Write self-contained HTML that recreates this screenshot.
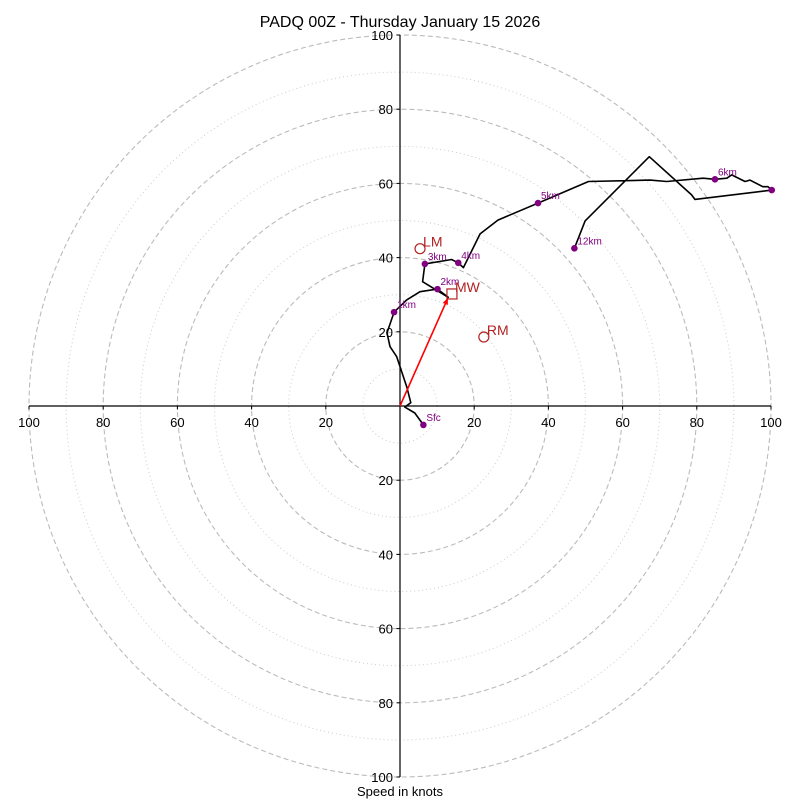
<!DOCTYPE html>
<html><head><meta charset="utf-8"><style>
body{margin:0;background:#fff}
svg{display:block;font-family:"Liberation Sans","DejaVu Sans",sans-serif}
</style></head><body>
<svg id="c" width="800" height="800" viewBox="0 0 800 800">
<rect width="800" height="800" fill="#fff"/>
<text x="400" y="27" text-anchor="middle" font-size="16">PADQ 00Z - Thursday January 15 2026</text>
<text x="400" y="796" text-anchor="middle" font-size="13">Speed in knots</text>
<g id="grid"></g><g id="axes"></g><g id="plot"></g>
</svg>
<script>
const ringsDashed=[20,40,60,80,100];
const ringsDotted=[10,30,50,70,90];
const tickVals=[20,40,60,80,100];
const uVals=[6.3,4.0,1.3,2.9,1.8,-0.9,-2.7,-3.5,-1.6,1.8,5.4,10.1,13.0,6.1,6.7,13.9,15.7,17.1,21.6,26.4,37.2,50.8,67.4,71.9,81.7,84.9,88.1,89.4,93.0,94.3,97.8,99.2,100.2,79.5,78.6,67.2,49.9,47.0];
const vVals=[-5.1,-1.9,-0.3,0.9,5.2,13.3,16.0,19.7,25.3,28.6,30.8,31.5,29.3,33.5,38.3,39.5,38.6,37.3,46.4,50.1,54.7,60.5,60.9,60.5,61.4,61.1,61.4,62.3,60.5,60.9,59.1,59.1,58.2,55.7,56.9,67.2,49.9,42.5];
const markerIdx=[0,8,11,14,16,20,25,32,37];
const markerLabels=["Sfc","1km","2km","3km","4km","5km","6km","","12km"];
const motionNames=["LM","MW","RM"];
const motionU=[5.4,14.0,22.6];
const motionV=[42.4,30.2,18.6];
const cx=400,cy=406,s=3.71;
const X=u=>cx+u*s, Y=v=>cy-v*s;
const NS="http://www.w3.org/2000/svg";
function mk(tag,attrs,parent,txt){const e=document.createElementNS(NS,tag);for(const k in attrs)e.setAttribute(k,attrs[k]);if(txt!==undefined)e.textContent=txt;parent.appendChild(e);return e;}
const grid=document.getElementById('grid'),axes=document.getElementById('axes'),plot=document.getElementById('plot');
ringsDashed.forEach(r=>{const e=mk('circle',{cx:cx,cy:cy,r:r*s,fill:'none',stroke:'#bbb','stroke-width':1.1,'stroke-dasharray':'5,3'},grid);

});
ringsDotted.forEach(r=>{const e=mk('circle',{cx:cx,cy:cy,r:r*s,fill:'none',stroke:'#ccc','stroke-width':1,'stroke-dasharray':'1,3'},grid);

});
let e=mk('line',{x1:X(-100),y1:cy,x2:X(100),y2:cy,stroke:'#000','stroke-width':1.2},axes);


e=mk('line',{x1:cx,y1:Y(100),x2:cx,y2:Y(-100),stroke:'#000','stroke-width':1.2},axes);


tickVals.forEach(t=>{[-1,1].forEach(sg=>{
 mk('line',{x1:X(sg*t),y1:cy,x2:X(sg*t),y2:cy+3.5,stroke:'#000'},axes);
 let l=mk('text',{x:X(sg*t),y:cy+21,'text-anchor':'middle','font-size':13},axes,String(t));
 
 
 mk('line',{x1:cx-3.5,y1:Y(sg*t),x2:cx,y2:Y(sg*t),stroke:'#000'},axes);
 l=mk('text',{x:cx-7,y:Y(sg*t)+5,'text-anchor':'end','font-size':13},axes,String(t));
 
 
});});
const pts=uVals.map((u,i)=>X(u).toFixed(1)+','+Y(vVals[i]).toFixed(1)).join(' ');
e=mk('polyline',{points:pts,fill:'none',stroke:'#000','stroke-width':1.6,'stroke-linejoin':'round'},plot);


markerIdx.forEach((idx,k)=>{
 const m=mk('circle',{cx:X(uVals[idx]),cy:Y(vVals[idx]),r:3.3,fill:'purple'},plot);
 
 
 if(markerLabels[k]){const t=mk('text',{x:X(uVals[idx])+3,y:Y(vVals[idx])-4,'font-size':10,fill:'purple'},plot,markerLabels[k]);
 
 }
});
// mean wind arrow
e=mk('line',{x1:cx,y1:cy,x2:X(motionU[1])-4,y2:Y(motionV[1])+4,stroke:'red','stroke-width':1.6},plot);


(function(){const x2=X(motionU[1])-4,y2=Y(motionV[1])+4;const a=Math.atan2(y2-cy,x2-cx);const h=7;
 const p=[[x2,y2],[x2-h*Math.cos(a-0.4),y2-h*Math.sin(a-0.4)],[x2-h*Math.cos(a+0.4),y2-h*Math.sin(a+0.4)]];
 const ah=mk('polygon',{points:p.map(q=>q.join(',')).join(' '),fill:'red'},plot);
 
 })();
motionNames.forEach((n,i)=>{
 const x=X(motionU[i]),y=Y(motionV[i]);
 let m;
 if(n==='MW'){m=mk('rect',{x:x-5,y:y-5,width:10,height:10,fill:'none',stroke:'#b22222','stroke-width':1.2},plot);}
 else{m=mk('circle',{cx:x,cy:y,r:5,fill:'none',stroke:'#b22222','stroke-width':1.2},plot);}
 
 
 const t=mk('text',{x:x+3,y:y-2,'font-size':14,fill:'#b22222'},plot,n);
 
 
});
</script>
</body></html>
